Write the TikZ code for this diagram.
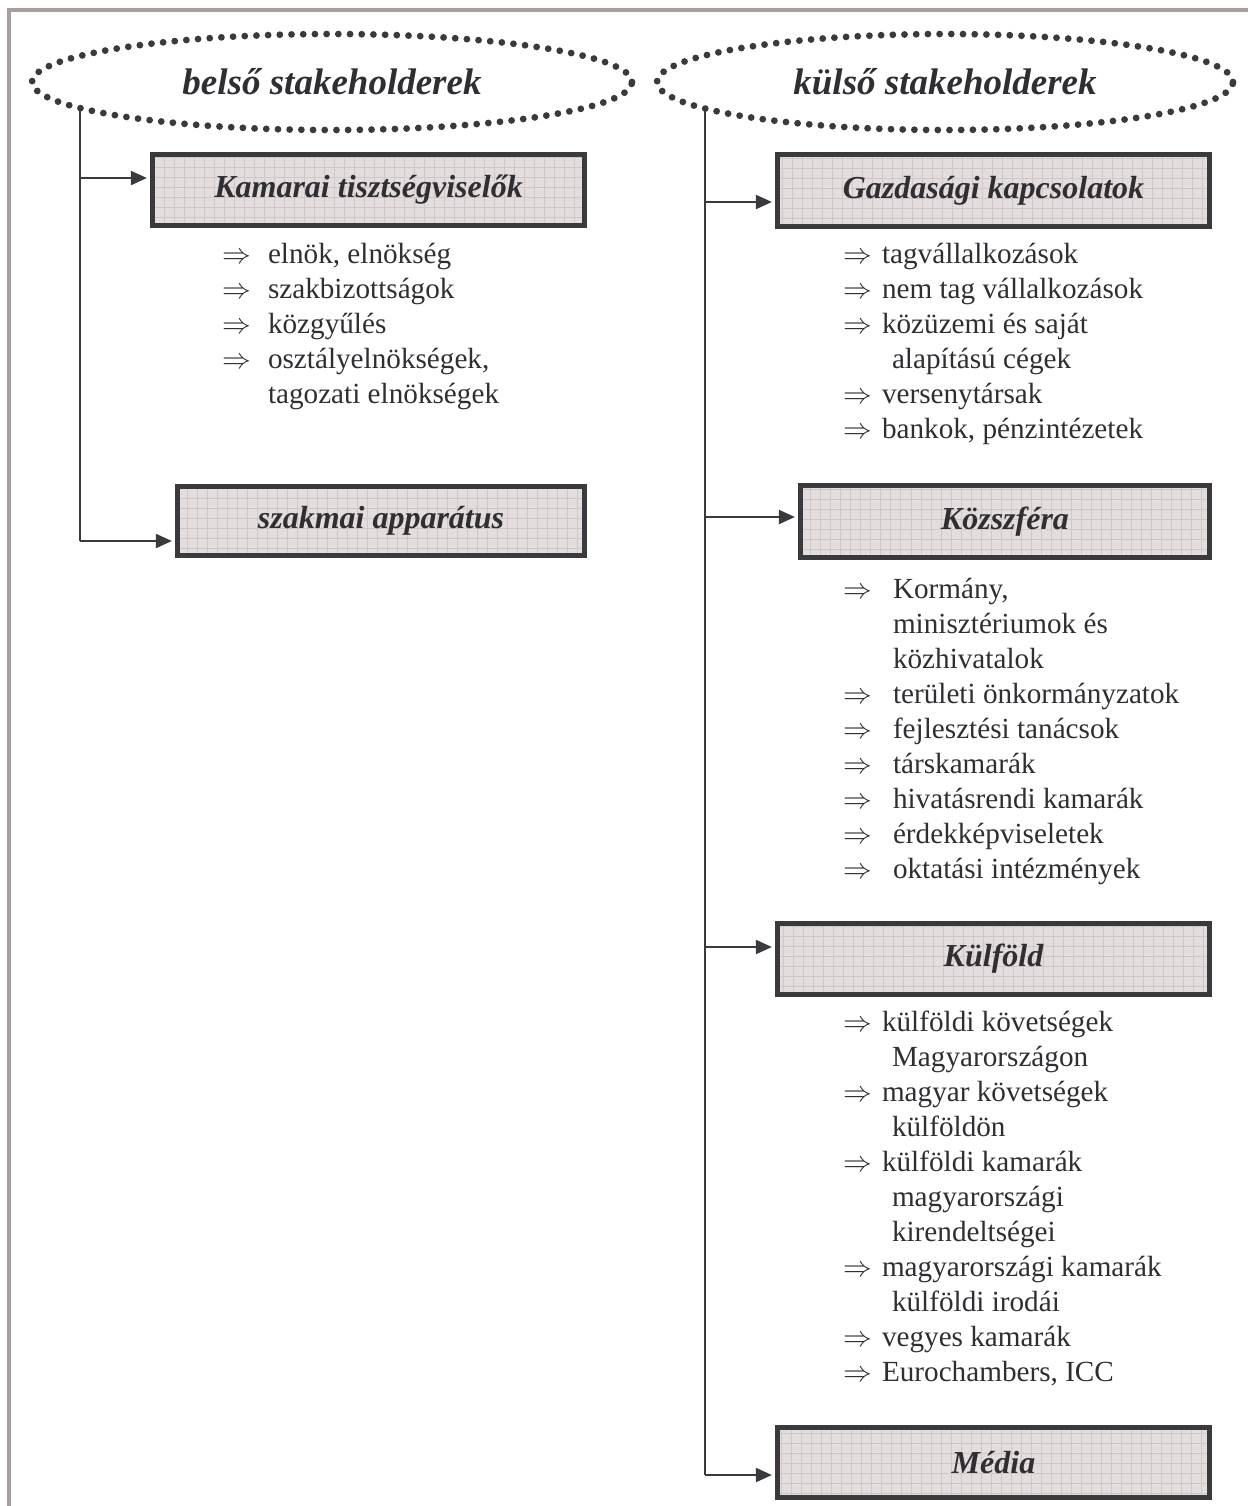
\documentclass[tikz,border=0pt]{standalone}
\usepackage{fontspec}
\setmainfont{Liberation Serif}
\usetikzlibrary{shapes.geometric,arrows.meta}
\definecolor{inkgray}{HTML}{3A393E}
\definecolor{textgray}{HTML}{2F2E33}
\definecolor{framegray}{HTML}{A89F9C}
\definecolor{boxfill}{HTML}{E3DEDD}
\definecolor{gridgray}{HTML}{CFC8C6}
\newcommand{\listfont}{\fontsize{14.6}{17.5}\selectfont}
\newcommand{\dra}{$\Rightarrow$}
\begin{document}
\begin{tikzpicture}[x=0.5pt,y=-0.5pt,
    stakeholder/.style={ellipse,draw=inkgray,line width=3.4pt,line cap=round,dash pattern=on 0pt off 5.85pt,
        minimum height=48pt,inner sep=0pt,text=textgray,
        font=\fontsize{18.5}{22}\selectfont\bfseries\itshape},
    groupbox/.style={draw=inkgray,line width=2.8pt,fill=boxfill,inner sep=0pt,text=textgray,
        font=\fontsize{16}{19}\selectfont\bfseries\itshape,
        path picture={\draw[gridgray,line width=0.5pt] (path picture bounding box.south west) grid[step=5pt] (path picture bounding box.north east);}},
    itemlist/.style={anchor=base west,inner sep=0pt,text=textgray,font=\listfont},
    trunk/.style={inkgray,line width=1pt},
    branch/.style={inkgray,line width=1pt,shorten >=1.4pt,-{Triangle[length=8pt,width=7pt]}}]
    \useasboundingbox (0,0) rectangle (1248,1506);
    \draw[framegray,line width=2pt] (9,1520) -- (9,10) -- (1260,10);

    \node[stakeholder,minimum width=300pt] (inner) at (332,82) {belső stakeholderek};
    \node[stakeholder,minimum width=288pt] (outer) at (945,82) {külső stakeholderek};

    \node[groupbox,minimum width=216pt,minimum height=35.5pt] (kamarai) at (368.5,190) {Kamarai tisztségviselők};
    \node[groupbox,minimum width=203.5pt,minimum height=34.5pt] (szakmai) at (381,521) {szakmai apparátus};
    \node[groupbox,minimum width=216pt,minimum height=36pt] (gazdasagi) at (993.5,190.5) {Gazdasági kapcsolatok};
    \node[groupbox,minimum width=204.5pt,minimum height=36pt] (kozszfera) at (1005,521.5) {Közszféra};
    \node[groupbox,minimum width=216pt,minimum height=35.5pt] (kulfold) at (993.5,959) {Külföld};
    \node[groupbox,minimum width=216pt,minimum height=35pt] (media) at (993.5,1462.5) {Média};

    \coordinate (itop) at (80,108);
    \coordinate (ikam) at (80,178);
    \coordinate (iszak) at (80,541);
    \draw[trunk] (itop) -- (iszak);
    \draw[branch] (ikam) -- (ikam -| kamarai.west);
    \draw[branch] (iszak) -- (iszak -| szakmai.west);

    \coordinate (otop) at (705,108);
    \coordinate (ogazd) at (705,202);
    \coordinate (okoz) at (705,517);
    \coordinate (okulf) at (705,947);
    \coordinate (omed) at (705,1475);
    \draw[trunk] (otop) -- (omed);
    \draw[branch] (ogazd) -- (ogazd -| gazdasagi.west);
    \draw[branch] (okoz) -- (okoz -| kozszfera.west);
    \draw[branch] (okulf) -- (okulf -| kulfold.west);
    \draw[branch] (omed) -- (omed -| media.west);

    \node[itemlist] (kamlist) at (222,263.5) {\begin{tabular}[t]{@{}l@{\hspace{8.4pt}}l@{}}
        \dra & elnök, elnökség\\
        \dra & szakbizottságok\\
        \dra & közgyűlés\\
        \dra & osztályelnökségek,\\
             & tagozati elnökségek
    \end{tabular}};
    \node[itemlist] (gazdlist) at (843,263.5) {\begin{tabular}[t]{@{}l@{\hspace{4.9pt}}l@{}}
        \dra & tagvállalkozások\\
        \dra & nem tag vállalkozások\\
        \dra & közüzemi és saját\\
             & \hspace{5pt}alapítású cégek\\
        \dra & versenytársak\\
        \dra & bankok, pénzintézetek
    \end{tabular}};
    \node[itemlist] (kozlist) at (843,598.5) {\begin{tabular}[t]{@{}l@{\hspace{10.4pt}}l@{}}
        \dra & Kormány,\\
             & minisztériumok és\\
             & közhivatalok\\
        \dra & területi önkormányzatok\\
        \dra & fejlesztési tanácsok\\
        \dra & társkamarák\\
        \dra & hivatásrendi kamarák\\
        \dra & érdekképviseletek\\
        \dra & oktatási intézmények
    \end{tabular}};
    \node[itemlist] (kulflist) at (843,1031.5) {\begin{tabular}[t]{@{}l@{\hspace{4.9pt}}l@{}}
        \dra & külföldi követségek\\
             & \hspace{5pt}Magyarországon\\
        \dra & magyar követségek\\
             & \hspace{5pt}külföldön\\
        \dra & külföldi kamarák\\
             & \hspace{5pt}magyarországi\\
             & \hspace{5pt}kirendeltségei\\
        \dra & magyarországi kamarák\\
             & \hspace{5pt}külföldi irodái\\
        \dra & vegyes kamarák\\
        \dra & Eurochambers, ICC
    \end{tabular}};
\end{tikzpicture}
\end{document}
